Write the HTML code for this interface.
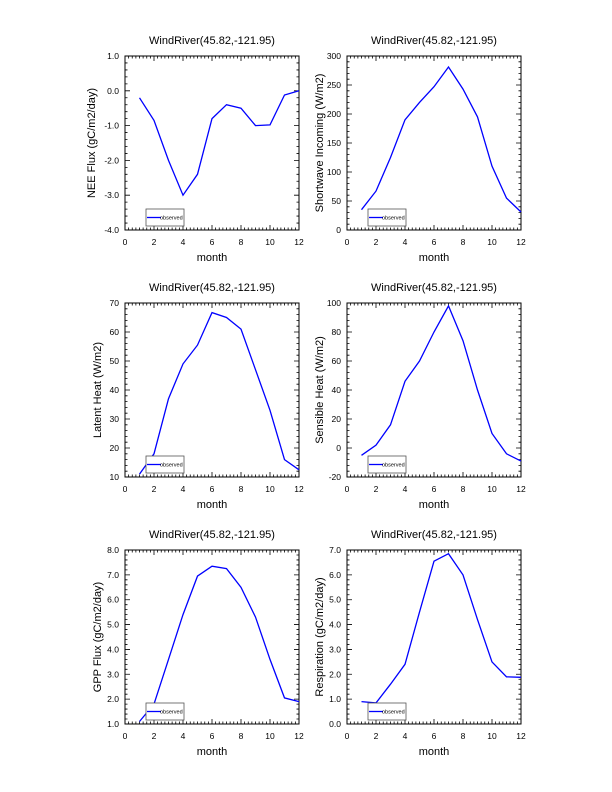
<!DOCTYPE html>
<html><head><meta charset="utf-8"><style>body{margin:0;background:#fff}svg{display:block}</style></head>
<body><svg id="s" width="612" height="792" xmlns="http://www.w3.org/2000/svg" font-family="Liberation Sans, Arial, sans-serif"></svg>
<script>
var s=document.getElementById('s'),h='';
var P=[
{x:125,y:56,lab:'NEE Flux (gC/m2/day)',min:-4,max:1,step:1,minor:0.2,fmt:1,d:[-0.2,-0.85,-2.0,-3.0,-2.4,-0.8,-0.4,-0.5,-1.0,-0.98,-0.12,0.0]},
{x:347,y:56,lab:'Shortwave Incoming (W/m2)',min:0,max:300,step:50,minor:10,fmt:0,d:[35,67,125,190,220,247,281,243,195,110,55,31]},
{x:125,y:303,lab:'Latent Heat (W/m2)',min:10,max:70,step:10,minor:2,fmt:0,d:[11,18,37,49,55.5,66.7,65,61,47,33,16,12.5]},
{x:347,y:303,lab:'Sensible Heat (W/m2)',min:-20,max:100,step:20,minor:4,fmt:0,d:[-5,2,16,46,60,80,98,74,40,10,-4,-9]},
{x:125,y:550,lab:'GPP Flux (gC/m2/day)',min:1,max:8,step:1,minor:0.2,fmt:1,d:[1.1,1.8,3.6,5.4,6.95,7.35,7.25,6.5,5.3,3.6,2.05,1.9]},
{x:347,y:550,lab:'Respiration (gC/m2/day)',min:0,max:7,step:1,minor:0.2,fmt:1,d:[0.9,0.85,1.6,2.4,4.5,6.55,6.85,6.0,4.2,2.5,1.9,1.88]}];
var W=174,H=174;
P.forEach(function(p){
 var X=function(v){return p.x+v/12*W},Y=function(v){return p.y+H-(v-p.min)/(p.max-p.min)*H};
 h+='<text x="'+(p.x+W/2)+'" y="'+(p.y-12)+'" font-size="11" text-anchor="middle">WindRiver(45.82,-121.95)</text>';
 h+='<rect x="'+p.x+'" y="'+p.y+'" width="'+W+'" height="'+H+'" fill="none" stroke="#000" stroke-width="1"/>';
 var t='';
 for(var i=0;i<=48;i++){var v=i*0.25,xx=X(v),L=i%8==0?5:2.5;t+='M'+xx+' '+(p.y+H)+'v-'+L+'M'+xx+' '+p.y+'v'+L;
  if(i%8==0)h+='<text x="'+xx+'" y="'+(p.y+H+15)+'" font-size="8.5" text-anchor="middle">'+v+'</text>';}
 var n=Math.round((p.max-p.min)/p.minor);
 for(var i=0;i<=n;i++){var v=p.min+i*p.minor,yy=Y(v),maj=Math.abs((v-p.min)/p.step-Math.round((v-p.min)/p.step))<1e-6,L=maj?5:2.5;
  t+='M'+p.x+' '+yy+'h'+L+'M'+(p.x+W)+' '+yy+'h-'+L;
  if(maj)h+='<text x="'+(p.x-6)+'" y="'+(yy+3)+'" font-size="8.5" text-anchor="end">'+(p.fmt?v.toFixed(1):Math.round(v))+'</text>';}
 h+='<path d="'+t+'" stroke="#000" stroke-width="0.8" fill="none"/>';
 h+='<text x="'+(p.x+W/2)+'" y="'+(p.y+H+31)+'" font-size="11" text-anchor="middle">month</text>';
 h+='<text transform="translate('+(p.x-(p.y==56&&p.x==125?30:24))+','+(p.y+H/2)+') rotate(-90)" font-size="11" text-anchor="middle">'+p.lab+'</text>';
 var pts=p.d.map(function(v,i){return X(i+1).toFixed(1)+','+Y(v).toFixed(1)}).join(' ');
 h+='<polyline points="'+pts+'" fill="none" stroke="#0000ff" stroke-width="1.3"/>';
 h+='<rect x="'+(p.x+21)+'" y="'+(p.y+153)+'" width="38" height="17" fill="#fff" stroke="#555" stroke-width="0.8"/>';
 h+='<line x1="'+(p.x+22)+'" x2="'+(p.x+36)+'" y1="'+(p.y+161.5)+'" y2="'+(p.y+161.5)+'" stroke="#0000ff" stroke-width="1.3"/>';
 h+='<text x="'+(p.x+35)+'" y="'+(p.y+163.5)+'" font-size="5.5">observed</text>';
});
s.innerHTML=h;
</script></body></html>
